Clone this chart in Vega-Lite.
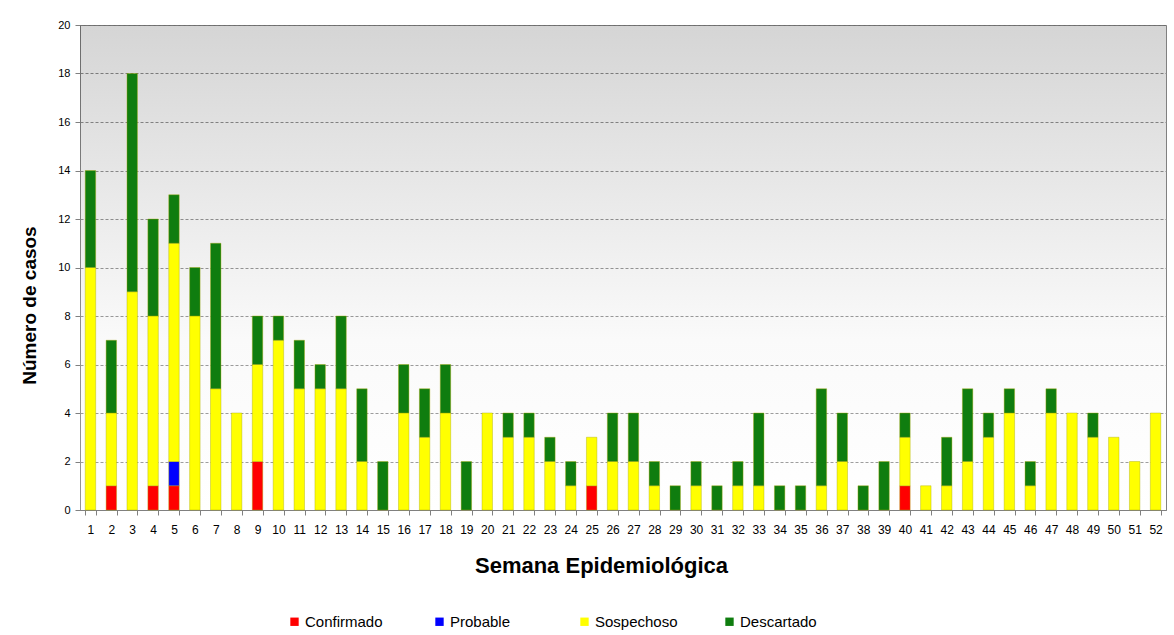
{
  "$schema": "https://vega.github.io/schema/vega-lite/v6.json",
  "width": 1086,
  "height": 485,
  "autosize": "none",
  "padding": {"left": 80, "top": 25, "right": 8, "bottom": 125},
  "background": "#ffffff",
  "config": {
    "font": "Liberation Sans",
    "view": {"stroke": "#808080", "strokeWidth": 1}
  },
  "layer": [
    {
      "data": {"values": [{"fondo": 1}]},
      "mark": {
        "type": "rect",
        "fillOpacity": 0.165,
        "fill": {
          "gradient": "linear",
          "x1": 0, "y1": 0, "x2": 0, "y2": 1,
          "stops": [
            {"offset": 0, "color": "#000000"},
            {"offset": 0.65, "color": "#e1e1e1"},
            {"offset": 1, "color": "#ffffff"}
          ]
        }
      },
      "encoding": {
        "y": {"datum": 20, "type": "quantitative"},
        "y2": {"datum": 0}
      }
    },
    {
      "data": {
        "values": [
          {"semana": 1, "estado": "Sospechoso", "orden": 3, "casos": 10},
          {"semana": 1, "estado": "Descartado", "orden": 4, "casos": 4},
          {"semana": 2, "estado": "Confirmado", "orden": 1, "casos": 1},
          {"semana": 2, "estado": "Sospechoso", "orden": 3, "casos": 3},
          {"semana": 2, "estado": "Descartado", "orden": 4, "casos": 3},
          {"semana": 3, "estado": "Sospechoso", "orden": 3, "casos": 9},
          {"semana": 3, "estado": "Descartado", "orden": 4, "casos": 9},
          {"semana": 4, "estado": "Confirmado", "orden": 1, "casos": 1},
          {"semana": 4, "estado": "Sospechoso", "orden": 3, "casos": 7},
          {"semana": 4, "estado": "Descartado", "orden": 4, "casos": 4},
          {"semana": 5, "estado": "Confirmado", "orden": 1, "casos": 1},
          {"semana": 5, "estado": "Probable", "orden": 2, "casos": 1},
          {"semana": 5, "estado": "Sospechoso", "orden": 3, "casos": 9},
          {"semana": 5, "estado": "Descartado", "orden": 4, "casos": 2},
          {"semana": 6, "estado": "Sospechoso", "orden": 3, "casos": 8},
          {"semana": 6, "estado": "Descartado", "orden": 4, "casos": 2},
          {"semana": 7, "estado": "Sospechoso", "orden": 3, "casos": 5},
          {"semana": 7, "estado": "Descartado", "orden": 4, "casos": 6},
          {"semana": 8, "estado": "Sospechoso", "orden": 3, "casos": 4},
          {"semana": 9, "estado": "Confirmado", "orden": 1, "casos": 2},
          {"semana": 9, "estado": "Sospechoso", "orden": 3, "casos": 4},
          {"semana": 9, "estado": "Descartado", "orden": 4, "casos": 2},
          {"semana": 10, "estado": "Sospechoso", "orden": 3, "casos": 7},
          {"semana": 10, "estado": "Descartado", "orden": 4, "casos": 1},
          {"semana": 11, "estado": "Sospechoso", "orden": 3, "casos": 5},
          {"semana": 11, "estado": "Descartado", "orden": 4, "casos": 2},
          {"semana": 12, "estado": "Sospechoso", "orden": 3, "casos": 5},
          {"semana": 12, "estado": "Descartado", "orden": 4, "casos": 1},
          {"semana": 13, "estado": "Sospechoso", "orden": 3, "casos": 5},
          {"semana": 13, "estado": "Descartado", "orden": 4, "casos": 3},
          {"semana": 14, "estado": "Sospechoso", "orden": 3, "casos": 2},
          {"semana": 14, "estado": "Descartado", "orden": 4, "casos": 3},
          {"semana": 15, "estado": "Descartado", "orden": 4, "casos": 2},
          {"semana": 16, "estado": "Sospechoso", "orden": 3, "casos": 4},
          {"semana": 16, "estado": "Descartado", "orden": 4, "casos": 2},
          {"semana": 17, "estado": "Sospechoso", "orden": 3, "casos": 3},
          {"semana": 17, "estado": "Descartado", "orden": 4, "casos": 2},
          {"semana": 18, "estado": "Sospechoso", "orden": 3, "casos": 4},
          {"semana": 18, "estado": "Descartado", "orden": 4, "casos": 2},
          {"semana": 19, "estado": "Descartado", "orden": 4, "casos": 2},
          {"semana": 20, "estado": "Sospechoso", "orden": 3, "casos": 4},
          {"semana": 21, "estado": "Sospechoso", "orden": 3, "casos": 3},
          {"semana": 21, "estado": "Descartado", "orden": 4, "casos": 1},
          {"semana": 22, "estado": "Sospechoso", "orden": 3, "casos": 3},
          {"semana": 22, "estado": "Descartado", "orden": 4, "casos": 1},
          {"semana": 23, "estado": "Sospechoso", "orden": 3, "casos": 2},
          {"semana": 23, "estado": "Descartado", "orden": 4, "casos": 1},
          {"semana": 24, "estado": "Sospechoso", "orden": 3, "casos": 1},
          {"semana": 24, "estado": "Descartado", "orden": 4, "casos": 1},
          {"semana": 25, "estado": "Confirmado", "orden": 1, "casos": 1},
          {"semana": 25, "estado": "Sospechoso", "orden": 3, "casos": 2},
          {"semana": 26, "estado": "Sospechoso", "orden": 3, "casos": 2},
          {"semana": 26, "estado": "Descartado", "orden": 4, "casos": 2},
          {"semana": 27, "estado": "Sospechoso", "orden": 3, "casos": 2},
          {"semana": 27, "estado": "Descartado", "orden": 4, "casos": 2},
          {"semana": 28, "estado": "Sospechoso", "orden": 3, "casos": 1},
          {"semana": 28, "estado": "Descartado", "orden": 4, "casos": 1},
          {"semana": 29, "estado": "Descartado", "orden": 4, "casos": 1},
          {"semana": 30, "estado": "Sospechoso", "orden": 3, "casos": 1},
          {"semana": 30, "estado": "Descartado", "orden": 4, "casos": 1},
          {"semana": 31, "estado": "Descartado", "orden": 4, "casos": 1},
          {"semana": 32, "estado": "Sospechoso", "orden": 3, "casos": 1},
          {"semana": 32, "estado": "Descartado", "orden": 4, "casos": 1},
          {"semana": 33, "estado": "Sospechoso", "orden": 3, "casos": 1},
          {"semana": 33, "estado": "Descartado", "orden": 4, "casos": 3},
          {"semana": 34, "estado": "Descartado", "orden": 4, "casos": 1},
          {"semana": 35, "estado": "Descartado", "orden": 4, "casos": 1},
          {"semana": 36, "estado": "Sospechoso", "orden": 3, "casos": 1},
          {"semana": 36, "estado": "Descartado", "orden": 4, "casos": 4},
          {"semana": 37, "estado": "Sospechoso", "orden": 3, "casos": 2},
          {"semana": 37, "estado": "Descartado", "orden": 4, "casos": 2},
          {"semana": 38, "estado": "Descartado", "orden": 4, "casos": 1},
          {"semana": 39, "estado": "Descartado", "orden": 4, "casos": 2},
          {"semana": 40, "estado": "Confirmado", "orden": 1, "casos": 1},
          {"semana": 40, "estado": "Sospechoso", "orden": 3, "casos": 2},
          {"semana": 40, "estado": "Descartado", "orden": 4, "casos": 1},
          {"semana": 41, "estado": "Sospechoso", "orden": 3, "casos": 1},
          {"semana": 42, "estado": "Sospechoso", "orden": 3, "casos": 1},
          {"semana": 42, "estado": "Descartado", "orden": 4, "casos": 2},
          {"semana": 43, "estado": "Sospechoso", "orden": 3, "casos": 2},
          {"semana": 43, "estado": "Descartado", "orden": 4, "casos": 3},
          {"semana": 44, "estado": "Sospechoso", "orden": 3, "casos": 3},
          {"semana": 44, "estado": "Descartado", "orden": 4, "casos": 1},
          {"semana": 45, "estado": "Sospechoso", "orden": 3, "casos": 4},
          {"semana": 45, "estado": "Descartado", "orden": 4, "casos": 1},
          {"semana": 46, "estado": "Sospechoso", "orden": 3, "casos": 1},
          {"semana": 46, "estado": "Descartado", "orden": 4, "casos": 1},
          {"semana": 47, "estado": "Sospechoso", "orden": 3, "casos": 4},
          {"semana": 47, "estado": "Descartado", "orden": 4, "casos": 1},
          {"semana": 48, "estado": "Sospechoso", "orden": 3, "casos": 4},
          {"semana": 49, "estado": "Sospechoso", "orden": 3, "casos": 3},
          {"semana": 49, "estado": "Descartado", "orden": 4, "casos": 1},
          {"semana": 50, "estado": "Sospechoso", "orden": 3, "casos": 3},
          {"semana": 51, "estado": "Sospechoso", "orden": 3, "casos": 2},
          {"semana": 52, "estado": "Sospechoso", "orden": 3, "casos": 4}
        ]
      },
      "mark": {"type": "bar", "stroke": "#a8a800", "strokeWidth": 0.4},
      "encoding": {
        "x": {
          "field": "semana",
          "type": "ordinal",
          "scale": {"domain": [1,2,3,4,5,6,7,8,9,10,11,12,13,14,15,16,17,18,19,20,21,22,23,24,25,26,27,28,29,30,31,32,33,34,35,36,37,38,39,40,41,42,43,44,45,46,47,48,49,50,51,52], "paddingInner": 0.5, "paddingOuter": 0.25},
          "axis": {
            "title": "Semana Epidemiológica",
            "titleFontSize": 22,
            "titleFontWeight": "bold",
            "titleColor": "#000000",
            "titlePadding": 20,
            "titleX": 521,
            "labelAngle": 0,
            "labelFontSize": 12,
            "labelColor": "#000000",
            "labelPadding": 9,
            "tickBand": "extent",
            "domainColor": "#808080",
            "tickColor": "#808080",
            "tickSize": 5,
            "grid": false
          }
        },
        "y": {
          "field": "casos",
          "type": "quantitative",
          "stack": "zero",
          "scale": {"domain": [0, 20], "nice": false},
          "axis": {
            "title": "Número de casos",
            "titleFontSize": 19,
            "titleFontWeight": "bold",
            "titleColor": "#000000",
            "titlePadding": 18,
            "titleY": 280,
            "values": [0,2,4,6,8,10,12,14,16,18,20],
            "labelFontSize": 11,
            "labelColor": "#000000",
            "labelPadding": 5,
            "domainColor": "#808080",
            "tickColor": "#808080",
            "tickSize": 5,
            "grid": true,
            "gridColor": "#8c8c8c",
            "gridDash": [3, 2],
            "gridWidth": 1
          }
        },
        "color": {
          "field": "estado",
          "type": "nominal",
          "scale": {
            "domain": ["Confirmado", "Probable", "Sospechoso", "Descartado"],
            "range": ["#ff0000", "#0000ff", "#ffff00", "#0f7d0f"]
          },
          "legend": {
            "title": null,
            "orient": "none",
            "legendX": 207,
            "legendY": 589,
            "direction": "horizontal",
            "columns": 4,
            "gridAlign": "all",
            "columnPadding": 44,
            "symbolType": "square",
            "symbolSize": 70,
            "symbolStrokeWidth": 0,
            "labelFontSize": 15,
            "labelColor": "#000000",
            "labelOffset": 3
          }
        },
        "order": {"field": "orden", "type": "quantitative"}
      }
    }
  ]
}
